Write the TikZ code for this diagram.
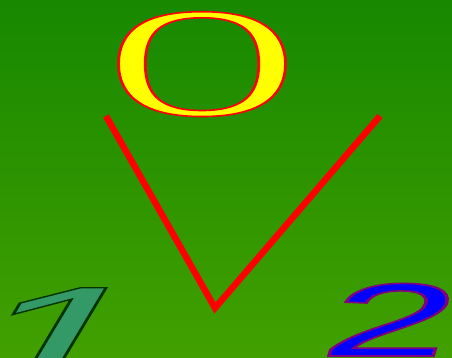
\documentclass[tikz,border=0pt]{standalone}
\usepackage{fontspec}
\setmainfont{Liberation Serif}
\newfontfamily\numfont{Liberation Sans}
\definecolor{bgtop}{RGB}{23,136,0}
\definecolor{bgbot}{RGB}{66,160,0}
\definecolor{onefill}{RGB}{51,153,102}
\definecolor{ofill}{RGB}{255,255,0}
\definecolor{twofill}{RGB}{0,0,255}
\newcommand\outlined[2]{\special{pdf:literal direct 2 Tr #1}#2\special{pdf:literal direct 0 Tr}}
\tikzset{
  glyph/.style={inner sep=0pt, anchor=base},
  vline/.style={draw=red, line width=6.5pt, line join=miter}
}
\begin{document}
\begin{tikzpicture}[x=1pt,y=-1pt]
\useasboundingbox (0,0) rectangle (452,357);
\clip (0,0) rectangle (452,357);
\shade[top color=bgtop, bottom color=bgbot] (0,0) rectangle (452,357);
\node[glyph, xscale=1.67, font=\fontsize{156}{156}\selectfont] (o) at (202,115)
  {\color{ofill}\outlined{1.6 w 1 0 0 RG}{O}};
\coordinate (vl) at (106,116);
\coordinate (vb) at (215,308);
\coordinate (vr) at (380,116);
\draw[vline] (vl) -- (vb) -- (vr);
\node[glyph, xslant=0.6, xscale=2.3, font=\numfont\fontsize{137}{137}\selectfont] (one) at (30,382)
  {\color{onefill}\outlined{1.4 w 0 0.2 0 RG}{1}};
\node[glyph, xslant=0.3, xscale=2.2, font=\numfont\fontsize{104}{104}\selectfont] (two) at (381,356)
  {\color{twofill}\outlined{1.6 w 0.5 0 0.5 RG}{2}};
\end{tikzpicture}
\end{document}
